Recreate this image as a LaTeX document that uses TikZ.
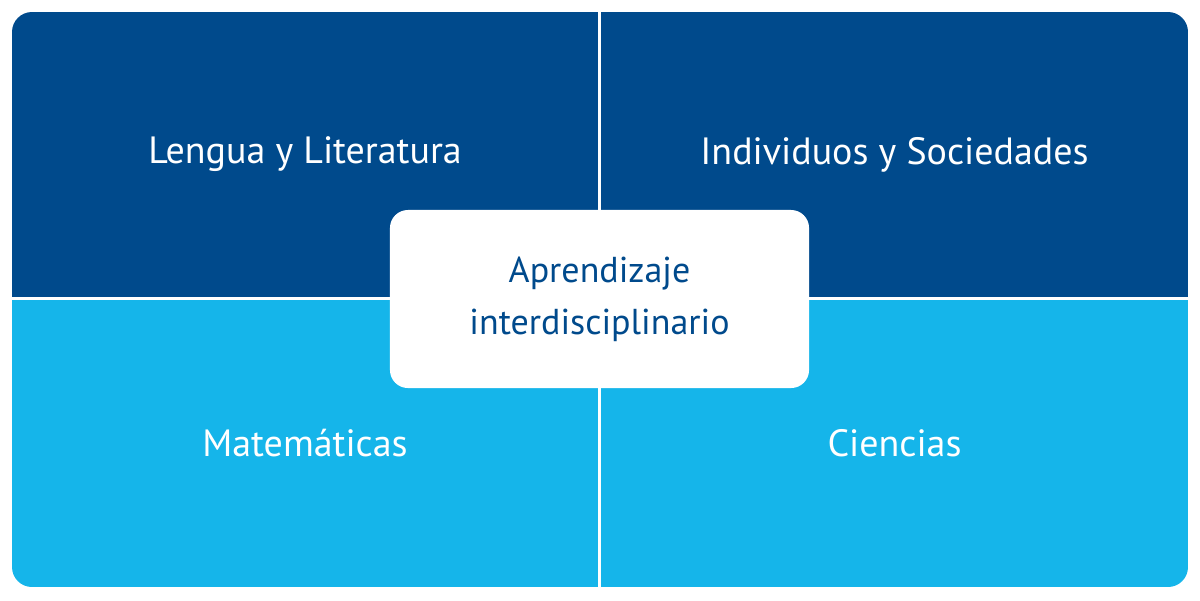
\documentclass[tikz,border=0pt]{standalone}
\usepackage{fontspec}
\setmainfont{PT Sans}
\definecolor{deepblue}{HTML}{004A8C}
\definecolor{skyblue}{HTML}{15B5EA}

\begin{document}
\begin{tikzpicture}[x=0.025cm, y=-0.025cm,
  area/.style={inner sep=0pt, minimum width=14.65cm, text=white,
               font=\fontsize{27}{32}\selectfont},
  toparea/.style={area, fill=deepblue, minimum height=7.125cm},
  lowarea/.style={area, fill=skyblue, minimum height=7.175cm},
  hub/.style={fill=white, rounded corners=0.45cm, inner sep=0pt,
              minimum width=10.475cm, minimum height=4.45cm, align=center,
              text=deepblue, font=\fontsize{25.6}{37}\selectfont},
]
\useasboundingbox (0,0) rectangle (1200,600);

\begin{scope}
  \clip[rounded corners=0.5cm] (12,12) rectangle (1188,587);
  \node[toparea] (lengua) at (305,154.5) {Lengua y Literatura};
  \node[toparea, minimum width=14.675cm] (individuos) at (894.5,154.5) {Individuos y Sociedades};
  \node[lowarea] (mate) at (305,443.5) {Matemáticas};
  \node[lowarea, minimum width=14.675cm] (ciencias) at (894.5,443.5) {Ciencias};
\end{scope}

\node[hub] (centro) at (599.5,299) {Aprendizaje\\interdisciplinario};

\end{tikzpicture}
\end{document}
